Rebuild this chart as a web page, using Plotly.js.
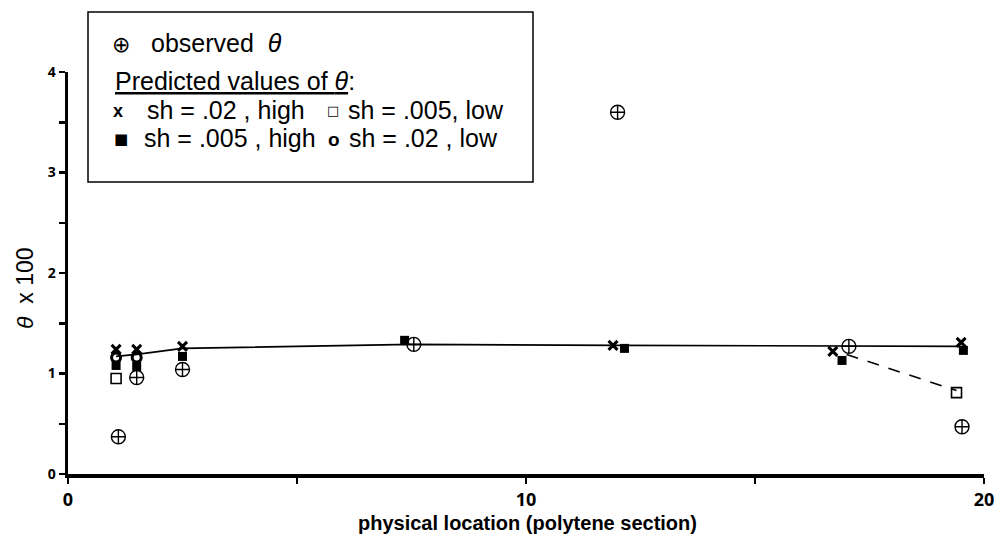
<!DOCTYPE html>
<html>
<head>
<meta charset="utf-8">
<script src="https://cdn.plot.ly/plotly-3.0.1.min.js"></script>
<style>html,body{margin:0;padding:0;background:#fff;}#chart{width:996px;height:537px;}</style>
</head>
<body>
<div id="chart"></div>
<script>
// ---- data ----
var obsX = [1.1, 1.5, 2.5, 7.55, 12.0, 17.05, 19.52];
var obsY = [0.37, 0.96, 1.04, 1.29, 3.60, 1.27, 0.47];

var hi02X = [1.05, 1.5, 2.5, 11.9, 16.7, 19.5];
var hi02Y = [1.24, 1.24, 1.27, 1.28, 1.22, 1.31];

var hi005X = [1.05, 1.5, 2.5, 7.35, 12.15, 16.9, 19.55];
var hi005Y = [1.08, 1.07, 1.17, 1.33, 1.25, 1.13, 1.23];

var lo005X = [1.05, 19.4];
var lo005Y = [0.95, 0.81];

var lo02X = [1.05, 1.5];
var lo02Y = [1.16, 1.16];

var lineX = [1.05, 1.5, 2.5, 7.5, 12.0, 17.0, 19.5];
var lineY = [1.17, 1.19, 1.25, 1.29, 1.28, 1.27, 1.27];

var dashX = [17.0, 19.4];
var dashY = [1.19, 0.83];

var xTickVals = [0, 5, 10, 15, 20];
var xTickText = ['0', '', '10', '', '20'];
var yTickVals = [0, 0.5, 1, 1.5, 2, 2.5, 3, 3.5, 4];
var yTickText = ['0', '', '1', '', '2', '', '3', '', '4'];

// ---- layout helpers (pixel -> paper) ----
var L = 68, R = 12, T = 72, B = 63, W = 996, H = 537;
var PW = W - L - R, PH = H - T - B;
function px(x) { return (x - L) / PW; }
function py(y) { return (H - B - y) / PH; }

var FONT = 'Liberation Sans, Arial, Helvetica, sans-serif';

var traces = [
  {x: lineX, y: lineY, mode: 'lines', line: {color: 'black', width: 1.6}, hoverinfo: 'skip'},
  {x: dashX, y: dashY, mode: 'lines', line: {color: 'black', width: 1.6, dash: '12px,10px'}, hoverinfo: 'skip'},
  {x: hi005X, y: hi005Y, mode: 'markers', name: 'sh = .005 , high',
   marker: {symbol: 'square', size: 9, color: 'black'}},
  {x: lo005X, y: lo005Y, mode: 'markers', name: 'sh = .005, low',
   marker: {symbol: 'square-open', size: 10, color: 'black', line: {width: 1.6}}},
  {x: lo02X, y: lo02Y, mode: 'markers', name: 'sh = .02 , low',
   marker: {symbol: 'circle-open', size: 9, color: 'black', line: {width: 3}}},
  {x: hi02X, y: hi02Y, mode: 'markers', name: 'sh = .02 , high',
   marker: {symbol: 'x-thin-open', size: 9, color: 'black', line: {width: 3, color: 'black'}}},
  {x: obsX, y: obsY, mode: 'markers', name: 'observed θ',
   marker: {symbol: 'circle-cross-open', size: 14, color: 'black', line: {width: 1.4, color: 'black'}}}
];

function ann(text, x, y, opts) {
  var a = {text: text, xref: 'paper', yref: 'paper', x: px(x), y: py(y),
    xanchor: 'left', yanchor: 'middle', showarrow: false,
    font: {family: FONT, size: 25, color: 'black'}};
  for (var k in (opts || {})) a[k] = opts[k];
  return a;
}

var annotations = [
  ann('⊕', 121, 44, {xanchor: 'center', font: {family: 'DejaVu Sans', size: 22, color: 'black'}}),
  ann('observed\u00a0\u00a0<i>θ</i>', 149, 43),
  ann('<u>Predicted values of <i>θ</i></u>:', 113, 81),
  ann('<b>x</b>', 118, 111, {xanchor: 'center', font: {family: FONT, size: 18, color: 'black'}}),
  ann('sh = .02 , high', 145, 110),
  ann('□', 333, 111, {xanchor: 'center', font: {family: 'DejaVu Sans', size: 13, color: 'black'}}),
  ann('sh = .005, low', 346, 110),
  ann('■', 121, 139, {xanchor: 'center', font: {family: 'DejaVu Sans', size: 15, color: 'black'}}),
  ann('sh = .005 , high', 142, 138),
  ann('<b>o</b>', 334, 139, {xanchor: 'center', font: {family: FONT, size: 19, color: 'black'}}),
  ann('sh = .02 , low', 347, 138),
  ann('<i>θ</i>\u00a0\u00a0x 100', 25, 288, {xanchor: 'center', textangle: -90,
    font: {family: FONT, size: 23, color: 'black'}}),
  ann('<b>physical location (polytene section)</b>', 527, 523, {xanchor: 'center',
    font: {family: FONT, size: 20, color: 'black'}})
];

var layout = {
  width: W, height: H,
  margin: {l: L, r: R, t: T, b: B, pad: 0},
  showlegend: false,
  xaxis: {
    range: [0, 20], showgrid: false, zeroline: false,
    showline: true, linecolor: 'black', linewidth: 4,
    ticks: 'outside', ticklen: 6, tickwidth: 2.5, tickcolor: 'black',
    tickvals: xTickVals, ticktext: xTickText,
    tickfont: {size: 18, color: 'black', weight: 'bold'}
  },
  yaxis: {
    range: [0, 4], showgrid: false, zeroline: false,
    showline: true, linecolor: 'black', linewidth: 3.5,
    ticks: 'outside', ticklen: 6, tickwidth: 2.5, tickcolor: 'black',
    tickvals: yTickVals, ticktext: yTickText,
    tickfont: {size: 14, color: 'black', weight: 'bold'}
  },
  shapes: [
    {type: 'rect', xref: 'paper', yref: 'paper',
     x0: px(88), x1: px(533), y0: py(182), y1: py(12),
     line: {color: 'black', width: 1.5}, fillcolor: 'white', layer: 'above'}
  ],
  annotations: annotations
};

Plotly.newPlot('chart', traces, layout, {displayModeBar: false, staticPlot: true});
</script>
</body>
</html>
